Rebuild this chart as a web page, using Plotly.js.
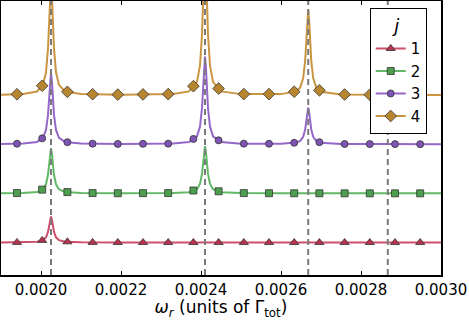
<!DOCTYPE html>
<html>
<head>
<meta charset="utf-8">
<script src="https://cdn.plot.ly/plotly-3.0.1.min.js"></script>
<style>
  body { margin: 0; background: #fff; }
  #chart { width: 469px; height: 320px; }
</style>
</head>
<body>
<div id="chart"></div>
<script>
// shared frequency grid (dense round the resonances)
var omega = [
  0.00190, 0.001955, 0.00199, 0.002005, 0.0020125, 0.0020175, 0.00202, 0.0020225,
  0.002025, 0.0020275, 0.00203, 0.0020325, 0.0020375, 0.002045, 0.00206, 0.0021,
  0.0022, 0.00233, 0.00237, 0.00239, 0.0023975, 0.0024025, 0.002405, 0.0024075,
  0.00241, 0.0024125, 0.002415, 0.0024175, 0.0024225, 0.00243, 0.00245, 0.0025,
  0.0026, 0.002638, 0.002648, 0.0026555, 0.0026605, 0.002663, 0.0026655,
  0.002668, 0.0026705, 0.002673, 0.0026755, 0.0026805, 0.002688, 0.0027,
  0.00275, 0.00285, 0.00300
];

// curves, each one offset by 1
var j1 = [
  0.00, 0.004, 0.016, 0.047, 0.106, 0.217, 0.323, 0.457,
  0.53, 0.457, 0.323, 0.217, 0.106, 0.047, 0.016, 0.004,
  0.001, 0.0, 0.0, 0.0, 0.0, 0.0, 0.0, 0.0,
  0.0, 0.0, 0.0, 0.0, 0.0, 0.0, 0.0, 0.0,
  0.0, 0.0, 0.0, 0.0, 0.0, 0.0, 0.0,
  0.0, 0.0, 0.0, 0.0, 0.0, 0.0, 0.0,
  0.0, 0.0, 0.0
];
var j2 = [
  1.002, 1.007, 1.029, 1.082, 1.184, 1.377, 1.561, 1.793,
  1.92, 1.793, 1.561, 1.377, 1.184, 1.082, 1.029, 1.007,
  1.002, 1.006, 1.023, 1.085, 1.192, 1.394, 1.586, 1.828,
  1.96, 1.828, 1.586, 1.394, 1.192, 1.085, 1.023, 1.005,
  1.002, 1.001, 1.001, 1.001, 1.001, 1.001, 1.001,
  1.001, 1.001, 1.001, 1.001, 1.001, 1.001, 1.001,
  1.0, 1.0, 1.0
];
var j3 = [
  2.004, 2.011, 2.045, 2.129, 2.29, 2.595, 2.885, 3.25,
  3.45, 3.25, 2.885, 2.595, 2.29, 2.129, 2.045, 2.012,
  2.004, 2.011, 2.043, 2.158, 2.356, 2.73, 3.086, 3.534,
  3.78, 3.534, 3.086, 2.73, 2.356, 2.158, 2.043, 2.01,
  2.008, 2.031, 2.066, 2.148, 2.303, 2.451, 2.638,
  2.74, 2.638, 2.451, 2.303, 2.148, 2.066, 2.027,
  2.004, 2.001, 2.0
];
var j4 = [
  3.006, 3.018, 3.071, 3.205, 3.46, 3.943, 4.403, 4.983,
  5.3, 4.983, 4.403, 3.943, 3.46, 3.205, 3.071, 3.018,
  3.006, 3.018, 3.072, 3.267, 3.6, 4.23, 4.83, 5.586,
  6.0, 5.586, 4.83, 4.23, 3.6, 3.267, 3.072, 3.017,
  3.017, 3.073, 3.154, 3.346, 3.709, 4.055, 4.491,
  4.73, 4.491, 4.055, 3.709, 3.346, 3.154, 3.064,
  3.01, 3.002, 3.001
];

// where the markers sit
var markX = [
  0.001940, 0.002003, 0.002066, 0.002129, 0.002192, 0.002255, 0.002318, 0.002381,
  0.002444, 0.002507, 0.002570, 0.002633, 0.002696, 0.002759, 0.002822, 0.002885, 0.002948
];

// dashed lines
var resonances = [0.002025, 0.00241, 0.002668, 0.002867];

var names = ['1', '2', '3', '4'];
var curves = [j1, j2, j3, j4];
var symbols = ['triangle-up', 'square', 'circle', 'diamond'];
var sizes = [8, 7, 7, 9];
var lineColors = ['#cc4f6c', '#62b866', '#9467c8', '#c99541'];
var markColors = ['#b8344f', '#4d9f50', '#7e54b4', '#b8862f'];

// y of a curve at x (markers follow the line)
function onCurve(ys, x) {
  for (var i = 1; i < omega.length; i++) {
    if (x <= omega[i]) {
      var t = (x - omega[i - 1]) / (omega[i] - omega[i - 1]);
      return ys[i - 1] + t * (ys[i] - ys[i - 1]);
    }
  }
  return ys[ys.length - 1];
}

var data = [];
curves.forEach(function(ys, k) {
  data.push({
    x: omega, y: ys, mode: 'lines', type: 'scatter', showlegend: false,
    line: {color: lineColors[k], width: 2}, hoverinfo: 'skip'
  });
  data.push({
    x: markX, y: markX.map(function(x) { return onCurve(ys, x); }),
    mode: 'markers', type: 'scatter', showlegend: false,
    marker: {symbol: symbols[k], size: sizes[k], color: markColors[k],
             line: {color: '#333', width: 0.8}}
  });
});
// legend entries only
curves.forEach(function(ys, k) {
  data.push({
    x: [null], y: [null], name: names[k], mode: 'lines+markers', type: 'scatter',
    line: {color: lineColors[k], width: 2},
    marker: {symbol: symbols[k], size: sizes[k], color: markColors[k],
             line: {color: '#333', width: 0.8}}
  });
});

var shapes = resonances.map(function(r) {
  return {
    type: 'line', xref: 'x', yref: 'paper', x0: r, x1: r, y0: 0, y1: 1,
    layer: 'above', line: {color: '#7a7a7a', width: 2, dash: '6px,4px'}
  };
});

var layout = {
  width: 469, height: 320,
  margin: {l: 1, r: 28, t: 1, b: 45},
  paper_bgcolor: 'white', plot_bgcolor: 'white',
  font: {family: 'DejaVu Sans', size: 15, color: '#000'},
  showlegend: true,
  xaxis: {
    range: [0.0019, 0.0030], tick0: 0, dtick: 0.0002, tickformat: '.4f',
    ticks: 'inside', ticklen: 4, tickwidth: 1, tickcolor: '#000',
    showline: true, linecolor: '#000', linewidth: 1.5, mirror: 'ticks',
    showgrid: false, zeroline: false, automargin: false,
    tickfont: {size: 15},
    title: {text: '<i>ω</i><sub><i>r</i></sub> (units of Γ<sub>tot</sub>)',
            font: {size: 17}, standoff: 8}
  },
  yaxis: {
    range: [-0.66, 4.91], showticklabels: false, ticks: '',
    showline: true, linecolor: '#000', linewidth: 1.5, mirror: true,
    showgrid: false, zeroline: false
  },
  legend: {
    x: 0.838, y: 0.975, xanchor: 'left', yanchor: 'top',
    bgcolor: 'white', bordercolor: '#000', borderwidth: 1,
    font: {size: 15}, tracegroupgap: 0,
    title: {text: '<i>j</i>', side: 'top center', font: {size: 18}}
  },
  shapes: shapes
};

Plotly.newPlot('chart', data, layout, {displayModeBar: false, staticPlot: true});
</script>
</body>
</html>
